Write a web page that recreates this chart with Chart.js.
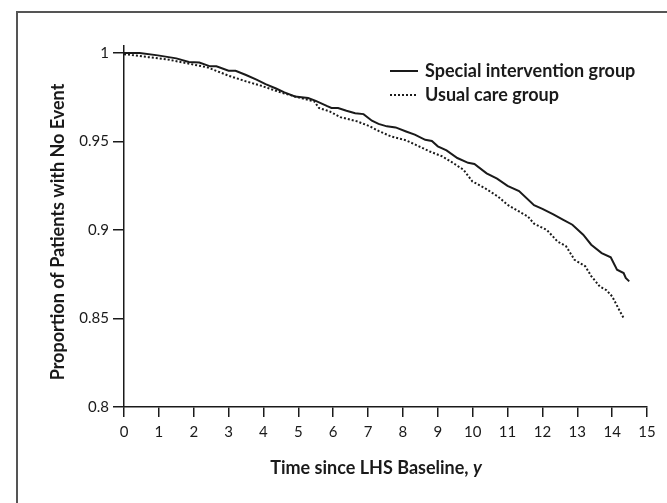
<!DOCTYPE html>
<html>
<head>
<meta charset="utf-8">
<script src="https://cdn.jsdelivr.net/npm/chart.js@4/dist/chart.umd.min.js"></script>
<style>
  body { margin: 0; background: #fff; }
  #frame {
    position: absolute; left: 16px; top: 11px; width: 700px; height: 600px;
    border-top: 2px solid #555; border-left: 2px solid #555;
  }
  #wrap { position: absolute; left: 0; top: 0; width: 667px; height: 503px; }
</style>
</head>
<body>
<div id="frame"></div>
<div id="wrap"><canvas id="myChart" width="667" height="503"></canvas></div>
<script>
const specialT = [0, 0.45, 0.97, 1.5, 1.86, 2.16, 2.47, 2.65, 3.0, 3.2, 3.5, 3.8, 4.06, 4.36, 4.6, 4.9, 5.28, 5.5, 5.83, 5.95, 6.14, 6.38, 6.63, 6.87, 7.11, 7.3, 7.54, 7.79, 8.09, 8.34, 8.64, 8.83, 9.0, 9.25, 9.56, 9.87, 10.05, 10.4, 10.7, 11.0, 11.33, 11.76, 12.0, 12.3, 12.6, 12.86, 13.17, 13.4, 13.7, 13.96, 14.14, 14.33, 14.39, 14.49];
const specialV = [1.0, 1.0, 0.9987, 0.997, 0.995, 0.9947, 0.9925, 0.9925, 0.990, 0.990, 0.9876, 0.985, 0.9825, 0.980, 0.9778, 0.9755, 0.9746, 0.973, 0.970, 0.969, 0.969, 0.9674, 0.966, 0.9655, 0.9618, 0.960, 0.9586, 0.958, 0.9557, 0.9539, 0.951, 0.9503, 0.9473, 0.945, 0.9407, 0.938, 0.9373, 0.932, 0.929, 0.925, 0.922, 0.914, 0.912, 0.909, 0.9058, 0.903, 0.8974, 0.8917, 0.887, 0.8846, 0.8776, 0.8757, 0.8729, 0.871];

const usualT = [0, 0.7, 1.3, 1.92, 2.4, 3.0, 3.5, 3.94, 4.49, 4.98, 5.46, 5.59, 5.9, 6.2, 6.69, 7.05, 7.3, 7.66, 8.09, 8.46, 8.77, 9.13, 9.44, 9.74, 9.99, 10.35, 10.72, 11.0, 11.33, 11.58, 11.76, 12.13, 12.43, 12.68, 12.92, 13.23, 13.4, 13.65, 13.84, 14.0, 14.2, 14.33];
const usualV = [0.9994, 0.9977, 0.9962, 0.9938, 0.9919, 0.9872, 0.984, 0.9815, 0.9778, 0.9751, 0.9727, 0.969, 0.967, 0.9638, 0.9614, 0.9586, 0.956, 0.9529, 0.9507, 0.9473, 0.9444, 0.9416, 0.9379, 0.934, 0.9275, 0.9237, 0.919, 0.9143, 0.9105, 0.9077, 0.9036, 0.900, 0.8936, 0.8908, 0.8832, 0.8795, 0.874, 0.868, 0.866, 0.8625, 0.855, 0.8503];

const xTicks = [0, 1, 2, 3, 4, 5, 6, 7, 8, 9, 10, 11, 12, 13, 14, 15];
const yTicks = [0.8, 0.85, 0.9, 0.95, 1];

const seriesLabels = ["Special intervention group", "Usual care group"];

const toPoints = (ts, vs) => ts.map((t, i) => ({ x: t, y: vs[i] }));

const ink = "#1a1a1a";
const tickFont = { family: "Lato, sans-serif", size: 15 };
const boldFont = "bold 18px Lato, sans-serif";
const boldItalic = "bold italic 18px Lato, sans-serif";

/*=============== TITLES + LEGEND ===============*/
const decorations = {
  id: "decorations",
  afterDraw(chart) {
    const ctx = chart.ctx;
    ctx.save();
    ctx.fillStyle = ink;
    ctx.font = boldFont;
    ctx.textBaseline = "middle";

    // y title
    ctx.save();
    ctx.translate(58, 232);
    ctx.rotate(-Math.PI / 2);
    ctx.textAlign = "center";
    ctx.fillText("Proportion of Patients with No Event", 0, 0);
    ctx.restore();

    // x title, with italic y
    const main = "Time since LHS Baseline, ";
    ctx.font = boldFont;
    const w1 = ctx.measureText(main).width;
    ctx.font = boldItalic;
    const w2 = ctx.measureText("y").width;
    const start = 376 - (w1 + w2) / 2;
    ctx.textAlign = "left";
    ctx.font = boldFont;
    ctx.fillText(main, start, 468);
    ctx.font = boldItalic;
    ctx.fillText("y", start + w1, 468);

    // legend
    ctx.font = boldFont;
    chart.data.datasets.forEach((ds, i) => {
      const y = 71 + i * 24;
      ctx.beginPath();
      ctx.strokeStyle = ds.borderColor;
      ctx.lineWidth = ds.borderWidth;
      ctx.setLineDash(ds.borderDash || []);
      ctx.moveTo(390, y);
      ctx.lineTo(418, y);
      ctx.stroke();
      ctx.setLineDash([]);
      ctx.fillText(ds.label, 425, y);
    });
    ctx.restore();
  },
};

const ctx = document.getElementById("myChart").getContext("2d");
const chart = new Chart(ctx, {
  type: "line",
  data: {
    datasets: [
      {
        label: seriesLabels[0],
        data: toPoints(specialT, specialV),
        borderColor: ink,
        borderWidth: 2,
        pointRadius: 0,
        fill: false,
      },
      {
        label: seriesLabels[1],
        data: toPoints(usualT, usualV),
        borderColor: ink,
        borderWidth: 2,
        borderDash: [2, 2],
        pointRadius: 0,
        fill: false,
      },
    ],
  },
  options: {
    responsive: false,
    animation: false,
    layout: { padding: { left: 0, top: 46, right: 20, bottom: 0 } },
    plugins: {
      legend: { display: false },
      tooltip: { enabled: false },
    },
    scales: {
      x: {
        type: "linear",
        min: 0,
        max: 15,
        afterBuildTicks: (scale) => {
          scale.ticks = xTicks.map((v) => ({ value: v }));
        },
        afterFit: (scale) => {
          scale.height = 96;
        },
        grid: { drawOnChartArea: false, drawTicks: true, tickLength: 10, color: ink, lineWidth: 1.5 },
        border: { display: true, color: ink, width: 1.5 },
        ticks: { color: ink, font: tickFont, padding: 6, maxRotation: 0, autoSkip: false },
      },
      y: {
        type: "linear",
        min: 0.8,
        max: 1.004,
        afterBuildTicks: (scale) => {
          scale.ticks = yTicks.map((v) => ({ value: v }));
        },
        afterFit: (scale) => {
          scale.width = 124;
        },
        grid: { drawOnChartArea: false, drawTicks: true, tickLength: 11, color: ink, lineWidth: 1.5 },
        border: { display: true, color: ink, width: 1.5 },
        ticks: {
          color: ink,
          font: tickFont,
          padding: 4,
          callback: (v) => String(+v.toFixed(2)),
        },
      },
    },
  },
  plugins: [decorations],
});
</script>
</body>
</html>
